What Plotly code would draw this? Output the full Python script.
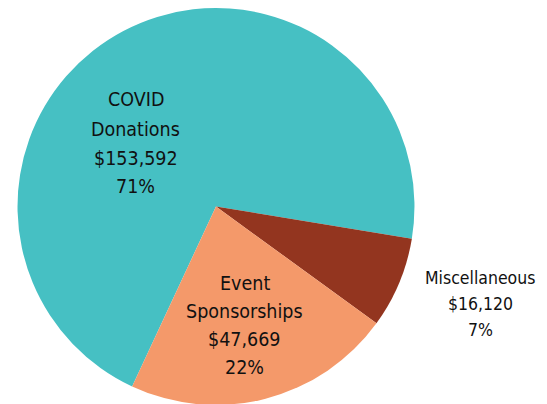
import plotly.graph_objects as go

# Revenue breakdown
categories = ["COVID Donations", "Miscellaneous", "Event Sponsorships"]
amounts = [153592, 16120, 47669]
slice_colors = ["#46C0C3", "#93351F", "#F4996A"]

# how each label is split into lines
label_lines = [["COVID", "Donations"], ["Miscellaneous"], ["Event", "Sponsorships"]]

W, H = 547, 404
OFF = 8  # page body margin
FONT = "Avenir Next Condensed, Liberation Sans Narrow, DejaVu Sans Condensed, Arial Narrow, sans-serif"

# label layout in page pixels: centre x, first line y, line step, font size
label_layout = [
    (135.5, 100.0, 29.0, 19.5),
    (480.0, 278.0, 26.0, 17.5),
    (244.5, 283.5, 28.0, 19.5),
]

total = sum(amounts)

fig = go.Figure()

fig.add_trace(go.Pie(
    labels=categories,
    values=amounts,
    sort=False,
    direction="clockwise",
    rotation=205,
    marker=dict(colors=slice_colors, line=dict(width=0)),
    textinfo="none",
    hoverinfo="label+value+percent",
    showlegend=False,
    domain=dict(x=[0.0174, 0.7431], y=[0.0173, 1.0])
))

for lines, amt, (cx, y0, step, size) in zip(label_lines, amounts, label_layout):
    pct = round(amt / total * 100)
    rows = lines + [f"${amt:,}", f"{pct}%"]
    for i, row in enumerate(rows):
        py = y0 + i * step
        fig.add_annotation(
            x=(cx - OFF) / W, y=1 - (py - OFF) / H,
            xref="paper", yref="paper",
            xanchor="center", yanchor="middle",
            text=row,
            showarrow=False,
            font=dict(family=FONT, size=size, color="#111111"),
        )

fig.update_layout(
    width=W,
    height=H,
    margin=dict(l=0, r=0, t=0, b=0),
    paper_bgcolor="white",
    plot_bgcolor="white",
)

fig.write_html("out.html")
